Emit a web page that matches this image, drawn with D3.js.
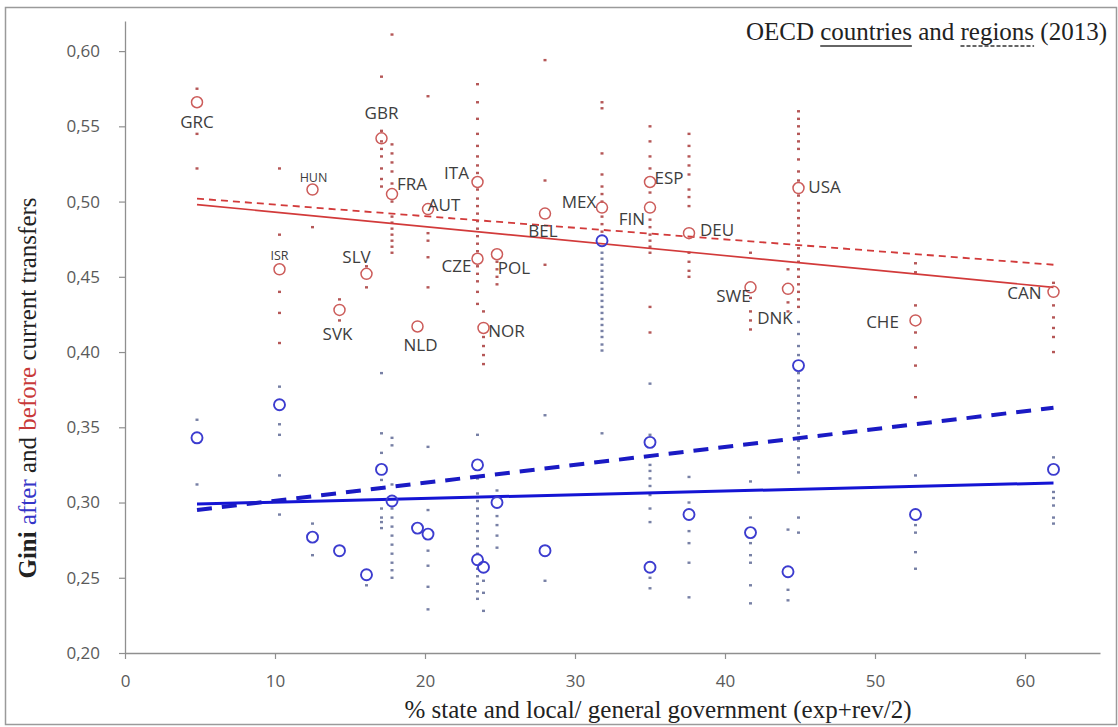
<!DOCTYPE html>
<html><head><meta charset="utf-8">
<script src="https://cdn.jsdelivr.net/npm/d3@7"></script>
<style>
html,body{margin:0;padding:0;background:#fff;}
svg{display:block;}
</style>
</head><body>
<svg id="chart" width="1118" height="727"></svg>
<script>
// ---------------- DATA ----------------
const countries = ["GRC","ISR","HUN","SVK","SLV","GBR","FRA","NLD","AUT","ITA","CZE","NOR","POL","BEL","MEX","FIN","ESP","DEU","SWE","DNK","USA","CHE","CAN"];
const decentralisation = [4.8,10.3,12.5,14.3,16.1,17.1,17.8,19.5,20.2,23.5,23.5,23.9,24.8,28.0,31.8,35.0,35.0,37.6,41.7,44.2,44.9,52.7,61.9];
const giniBefore = [0.566,0.455,0.508,0.428,0.452,0.542,0.505,0.417,0.495,0.513,0.462,0.416,0.465,0.492,0.496,0.496,0.513,0.479,0.443,0.442,0.509,0.421,0.440];
const giniAfter  = [0.343,0.365,0.277,0.268,0.252,0.322,0.301,0.283,0.279,0.325,0.262,0.257,0.300,0.268,0.474,0.257,0.340,0.292,0.280,0.254,0.391,0.292,0.322];

// regional values (small marks), same order as countries
const regionsBefore = [
  [0.575,0.545,0.522],
  [0.522,0.478,0.440,0.426,0.406],
  [0.483],
  [0.435,0.421],
  [0.457,0.443],
  [0.583,0.547,0.540,0.535,0.530,0.522,0.515,0.510],
  [0.611,0.538,0.532,0.526,0.520,0.512,0.500,0.490,0.486,0.482,0.478,0.474,0.470,0.466],
  [],
  [0.570,0.479,0.474,0.463,0.443],
  [0.578,0.566,0.555,0.545,0.537,0.530,0.524,0.519,0.508,0.502,0.497,0.492,0.487,0.482,0.477,0.472,0.467,0.457,0.452,0.447,0.440,0.432],
  [],
  [0.427,0.410,0.404,0.398,0.392],
  [0.460,0.455,0.450,0.445],
  [0.594,0.514,0.458],
  [0.566,0.562,0.532,0.518,0.510,0.505,0.500,0.490,0.485,0.480],
  [],
  [0.550,0.540,0.530,0.522,0.506,0.488,0.483,0.478,0.474,0.470,0.466,0.430,0.413],
  [0.545,0.537,0.530,0.524,0.518,0.508,0.503,0.497,0.466,0.460,0.454,0.450],
  [0.466,0.436,0.427,0.421,0.415],
  [0.455,0.433,0.427],
  [0.560,0.555,0.550,0.545,0.540,0.535,0.528,0.520,0.514,0.504,0.499,0.494,0.489,0.484,0.479,0.474,0.469,0.464,0.460,0.455,0.450,0.445,0.440,0.435,0.430],
  [0.459,0.453,0.431,0.413,0.403,0.391,0.370],
  [0.446,0.431,0.423,0.416,0.410,0.400]
];
const regionsAfter = [
  [0.355,0.312],
  [0.377,0.352,0.345,0.318,0.292],
  [0.286,0.265],
  [],
  [0.245],
  [0.386,0.346,0.333,0.315,0.310,0.296,0.290,0.287,0.283],
  [0.343,0.338,0.312,0.296,0.290,0.284,0.278,0.272,0.266,0.260,0.255,0.250],
  [],
  [0.337,0.295,0.268,0.258,0.244,0.229],
  [0.345,0.316,0.306,0.301,0.296,0.291,0.286,0.281,0.276,0.271,0.266,0.256,0.251,0.246,0.241,0.236],
  [],
  [0.248,0.240,0.228],
  [0.308,0.291,0.285,0.278,0.270],
  [0.358,0.248],
  [0.466,0.462,0.458,0.454,0.450,0.446,0.442,0.438,0.434,0.430,0.426,0.422,0.418,0.414,0.410,0.405,0.401,0.346],
  [],
  [0.379,0.345,0.325,0.321,0.316,0.311,0.305,0.296,0.287,0.250,0.243],
  [0.317,0.300,0.281,0.273,0.260,0.237],
  [0.314,0.290,0.273,0.265,0.260,0.245,0.233],
  [0.282,0.242,0.235],
  [0.420,0.412,0.404,0.398,0.386,0.381,0.376,0.371,0.366,0.361,0.356,0.351,0.346,0.341,0.336,0.330,0.325,0.320,0.290,0.280],
  [0.318,0.285,0.280,0.267,0.256],
  [0.330,0.307,0.303,0.298,0.290,0.286]
];

// linear fits (end points)
const fitX = [4.8, 61.9];
const fitCountriesBefore = [0.498, 0.443];
const fitRegionsBefore   = [0.502, 0.458];
const fitCountriesAfter  = [0.299, 0.313];
const fitRegionsAfter    = [0.295, 0.363];

const xTicks = [0,10,20,30,40,50,60];
const yTicks = [0.20,0.25,0.30,0.35,0.40,0.45,0.50,0.55,0.60];

// ---------------- LAYOUT ----------------
const labelOffsets = {
  GRC:[0,19], ISR:[0,-14], HUN:[1,-12], SVK:[-2,24], SLV:[-10,-17], GBR:[0,-26],
  FRA:[20,-11], NLD:[3,18], AUT:[16,-5], ITA:[-21,-10], CZE:[-21,7], NOR:[23,3],
  POL:[17,13], BEL:[-2,17], MEX:[-23,-6], FIN:[-18,11], ESP:[19,-5], DEU:[28,-4],
  SWE:[-17,8], DNK:[-13,29], USA:[26,-2], CHE:[-33,1], CAN:[-29,1]
};
const smallLabels = new Set(["ISR","HUN"]);

const svg = d3.select("#chart");
svg.append("rect").attr("width",1118).attr("height",727).attr("fill","#fff");
svg.append("rect").attr("x",5.5).attr("y",7.5).attr("width",1111).attr("height",717)
   .attr("fill","none").attr("stroke","#9a9a9a").attr("stroke-width",1.5);

const x = d3.scaleLinear().domain([0,65]).range([125,1100]);
const y = d3.scaleLinear().domain([0.2,0.62]).range([653,21]);

const fmt = d => d3.format(".2f")(d).replace(".", ",");
const axisColor = "#8f8f8f";
const tickFont = "'Open Sans', sans-serif";

const gy = svg.append("g").attr("transform","translate(125,0)")
  .call(d3.axisLeft(y).tickValues(yTicks).tickFormat(fmt).tickSize(6).tickSizeOuter(0).tickPadding(19));
const gx = svg.append("g").attr("transform","translate(0,653)")
  .call(d3.axisBottom(x).tickValues(xTicks).tickFormat(d3.format("d")).tickSize(6).tickSizeOuter(0).tickPadding(16));
[gx,gy].forEach(g=>{
  g.select(".domain").attr("stroke",axisColor).attr("stroke-width",1.3);
  g.selectAll(".tick line").attr("stroke",axisColor).attr("stroke-width",1.2);
  g.selectAll(".tick text").attr("fill","#5a5a5a").style("font-family",tickFont).style("font-size","17px");
});

// regional marks
const regB = [], regA = [];
countries.forEach((c,i)=>{
  regionsBefore[i].forEach(v=>regB.push({x:decentralisation[i], v}));
  regionsAfter[i].forEach(v=>regA.push({x:decentralisation[i], v}));
});
svg.append("g").selectAll("rect").data(regA).join("rect")
  .attr("x",d=>x(d.x)-1.5).attr("y",d=>y(d.v)-1.2).attr("width",3).attr("height",2.4)
  .attr("fill","#55608f").attr("opacity",0.8);
svg.append("g").selectAll("rect").data(regB).join("rect")
  .attr("x",d=>x(d.x)-1.5).attr("y",d=>y(d.v)-1.2).attr("width",3).attr("height",2.4)
  .attr("fill","#a83a3a").attr("opacity",0.85);

// fit lines
const fitLine = (vals) => d3.line().x((d,i)=>x(fitX[i])).y(d=>y(d))(vals);
svg.append("path").attr("d",fitLine(fitCountriesBefore)).attr("fill","none")
  .attr("stroke","#d23a3a").attr("stroke-width",1.6);
svg.append("path").attr("d",fitLine(fitRegionsBefore)).attr("fill","none")
  .attr("stroke","#d23a3a").attr("stroke-width",1.8).attr("stroke-dasharray","7,5");
svg.append("path").attr("d",fitLine(fitCountriesAfter)).attr("fill","none")
  .attr("stroke","#1414d4").attr("stroke-width",3);
svg.append("path").attr("d",fitLine(fitRegionsAfter)).attr("fill","none")
  .attr("stroke","#1a1ac4").attr("stroke-width",4).attr("stroke-dasharray","15,10");

// country circles
const idx = d3.range(countries.length);
svg.append("g").selectAll("circle").data(idx).join("circle")
  .attr("cx",i=>x(decentralisation[i])).attr("cy",i=>y(giniAfter[i])).attr("r",5.5)
  .attr("fill","none").attr("stroke","#3c3ccf").attr("stroke-width",1.9);
svg.append("g").selectAll("circle").data(idx).join("circle")
  .attr("cx",i=>x(decentralisation[i])).attr("cy",i=>y(giniBefore[i])).attr("r",5.5)
  .attr("fill","none").attr("stroke","#cc5c5a").attr("stroke-width",1.5);

// labels
svg.append("g").selectAll("text").data(idx).join("text")
  .attr("x",i=>x(decentralisation[i])+labelOffsets[countries[i]][0])
  .attr("y",i=>y(giniBefore[i])+labelOffsets[countries[i]][1])
  .attr("text-anchor","middle").attr("dominant-baseline","central")
  .style("font-family",tickFont)
  .style("font-size",i=>smallLabels.has(countries[i])?"12.5px":"17px")
  .attr("fill","#3d3d3d")
  .text(i=>countries[i]);

// axis titles
const serif = "'Liberation Serif','Times New Roman',serif";
svg.append("text").attr("x",658).attr("y",718).attr("text-anchor","middle")
  .style("font-family",serif).style("font-size","25px").attr("fill","#222")
  .text("%  state and local/ general government (exp+rev/2)");

const yt = svg.append("text").attr("transform","translate(36,388) rotate(-90)")
  .attr("text-anchor","middle").style("font-family",serif).style("font-size","25px").attr("fill","#222");
yt.append("tspan").style("font-weight","bold").text("Gini");
yt.append("tspan").text("  ");
yt.append("tspan").attr("fill","#3535c8").text("after");
yt.append("tspan").text(" and ");
yt.append("tspan").attr("fill","#c8393a").text("before");
yt.append("tspan").text(" current transfers");

// title
const title = svg.append("text").attr("x",1107).attr("y",40).attr("text-anchor","end")
  .style("font-family",serif).style("font-size","25px").attr("fill","#222");
title.append("tspan").text("OECD ");
title.append("tspan").text("countries");
title.append("tspan").text(" and ");
title.append("tspan").text("regions");
title.append("tspan").text(" (2013)");
const tnode = title.node();
const full = tnode.textContent;
function underline(word, dashed){
  const s = full.indexOf(word);
  const x0 = tnode.getStartPositionOfChar(s).x;
  const x1 = tnode.getEndPositionOfChar(s+word.length-1).x;
  svg.append("line").attr("x1",x0).attr("x2",x1).attr("y1",46).attr("y2",46)
    .attr("stroke","#333").attr("stroke-width",1.6)
    .attr("stroke-dasharray",dashed?"4,2":null);
}
underline("countries", false);
underline("regions", true);
</script>
</body></html>
